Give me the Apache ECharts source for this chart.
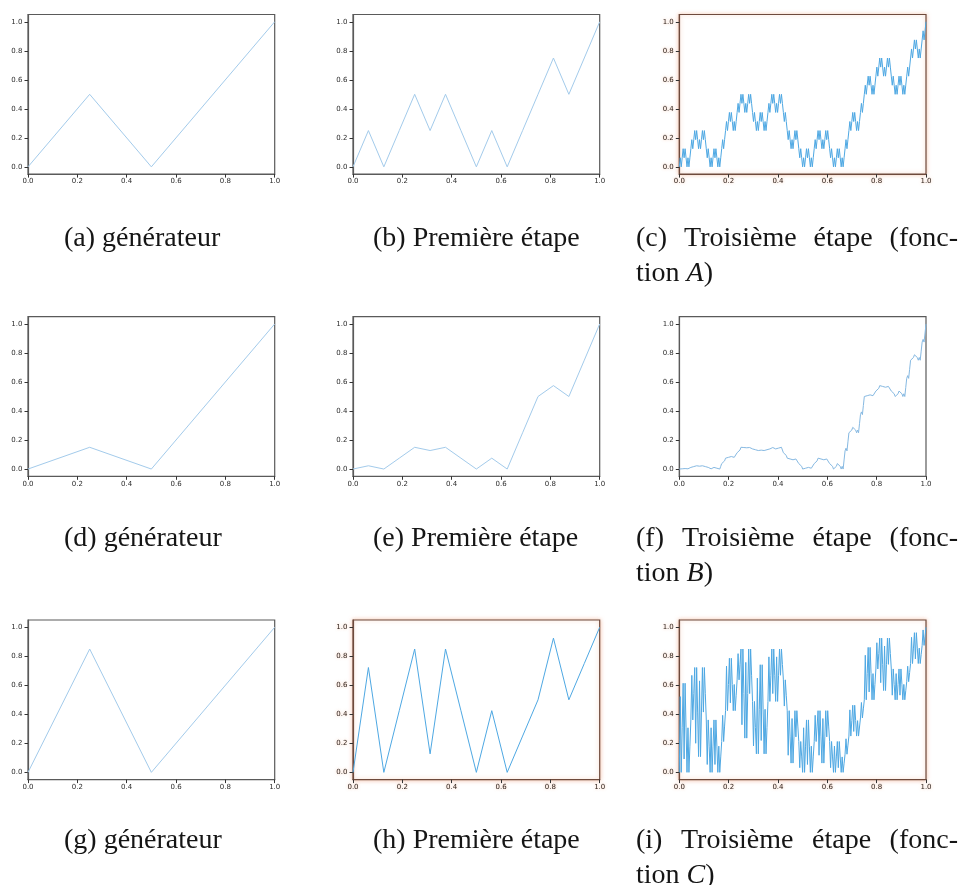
<!DOCTYPE html>
<html><head><meta charset="utf-8">
<script src="https://cdn.jsdelivr.net/npm/echarts@6/dist/echarts.min.js"></script>
<style>html,body{margin:0;padding:0;background:#fff}#c{width:962px;height:885px}</style>
</head><body><div id="c"></div>
<script>
// ---------- tick labels ----------
const tickValues = [0, 0.2, 0.4, 0.6, 0.8, 1.0];

// ---------- generators ----------
const xGen = [0, 0.25, 0.5, 1];
const genA = [0, 0.5, 0, 1];
const genB = [0, 0.15, 0, 1];
const genC = [0, 0.85, 0, 1];

// ---------- first stage ----------
const xStage1 = [0, 0.0625, 0.125, 0.1875, 0.25, 0.3125, 0.375, 0.4375, 0.5, 0.5625, 0.625, 0.6875, 0.75, 0.8125, 0.875, 0.9375, 1];
const stage1A = [0, .25, 0, .25, .5, .25, .5, .25, 0, .25, 0, .25, .5, .75, .5, .75, 1];
const stage1B = [0, .0225, 0, .075, .15, .1275, .15, .075, 0, .075, 0, .25, .5, .575, .5, .75, 1];
const stage1C = [0, .7225, 0, .425, .85, .1275, .85, .425, 0, .425, 0, .25, .5, .925, .5, .75, 1];

// ---------- third stage (257 points each) ----------
const stage3A = [
0,.0625,0,.0625,.125,.0625,.125,.0625,0,.0625,0,.0625,.125,.1875,.125,.1875,.25,
.1875,.25,.1875,.125,.1875,.125,.1875,.25,.1875,.25,.1875,.125,.0625,.125,.0625,0,
.0625,0,.0625,.125,.0625,.125,.0625,0,.0625,0,.0625,.125,.1875,.125,.1875,.25,
.3125,.25,.3125,.375,.3125,.375,.3125,.25,.3125,.25,.3125,.375,.4375,.375,.4375,.5,
.4375,.5,.4375,.375,.4375,.375,.4375,.5,.4375,.5,.4375,.375,.3125,.375,.3125,.25,
.3125,.25,.3125,.375,.3125,.375,.3125,.25,.3125,.25,.3125,.375,.4375,.375,.4375,.5,
.4375,.5,.4375,.375,.4375,.375,.4375,.5,.4375,.5,.4375,.375,.3125,.375,.3125,.25,
.1875,.25,.1875,.125,.1875,.125,.1875,.25,.1875,.25,.1875,.125,.0625,.125,.0625,0,
.0625,0,.0625,.125,.0625,.125,.0625,0,.0625,0,.0625,.125,.1875,.125,.1875,.25,
.1875,.25,.1875,.125,.1875,.125,.1875,.25,.1875,.25,.1875,.125,.0625,.125,.0625,0,
.0625,0,.0625,.125,.0625,.125,.0625,0,.0625,0,.0625,.125,.1875,.125,.1875,.25,
.3125,.25,.3125,.375,.3125,.375,.3125,.25,.3125,.25,.3125,.375,.4375,.375,.4375,.5,
.5625,.5,.5625,.625,.5625,.625,.5625,.5,.5625,.5,.5625,.625,.6875,.625,.6875,.75,
.6875,.75,.6875,.625,.6875,.625,.6875,.75,.6875,.75,.6875,.625,.5625,.625,.5625,.5,
.5625,.5,.5625,.625,.5625,.625,.5625,.5,.5625,.5,.5625,.625,.6875,.625,.6875,.75,
.8125,.75,.8125,.875,.8125,.875,.8125,.75,.8125,.75,.8125,.875,.9375,.875,.9375,1
];
const stage3B = [
0,.0005,0,.0017,.0034,.0029,.0034,.0017,0,.0017,0,.0056,.0113,.0129,.0113,.0169,.0225,
.022,.0225,.0208,.0191,.0196,.0191,.0208,.0225,.0208,.0225,.0169,.0113,.0096,.0113,.0056,0,
.0017,0,.0056,.0113,.0096,.0113,.0056,0,.0056,0,.0188,.0375,.0431,.0375,.0563,.075,
.0767,.075,.0806,.0863,.0846,.0863,.0806,.075,.0806,.075,.0938,.1125,.1181,.1125,.1313,.15,
.1495,.15,.1483,.1466,.1471,.1466,.1483,.15,.1483,.15,.1444,.1388,.1371,.1388,.1331,.1275,
.128,.1275,.1292,.1309,.1304,.1309,.1292,.1275,.1292,.1275,.1331,.1388,.1404,.1388,.1444,.15,
.1483,.15,.1444,.1388,.1404,.1388,.1444,.15,.1444,.15,.1313,.1125,.1069,.1125,.0938,.075,
.0733,.075,.0694,.0638,.0654,.0638,.0694,.075,.0694,.075,.0563,.0375,.0319,.0375,.0188,0,
.0017,0,.0056,.0113,.0096,.0113,.0056,0,.0056,0,.0188,.0375,.0431,.0375,.0563,.075,
.0733,.075,.0694,.0638,.0654,.0638,.0694,.075,.0694,.075,.0563,.0375,.0319,.0375,.0188,0,
.0056,0,.0188,.0375,.0319,.0375,.0188,0,.0188,0,.0625,.125,.1438,.125,.1875,.25,
.2556,.25,.2688,.2875,.2819,.2875,.2688,.25,.2688,.25,.3125,.375,.3938,.375,.4375,.5,
.5017,.5,.5056,.5113,.5096,.5113,.5056,.5,.5056,.5,.5188,.5375,.5431,.5375,.5563,.575,
.5733,.575,.5694,.5638,.5654,.5638,.5694,.575,.5694,.575,.5563,.5375,.5319,.5375,.5188,.5,
.5056,.5,.5188,.5375,.5319,.5375,.5188,.5,.5188,.5,.5625,.625,.6438,.625,.6875,.75,
.7556,.75,.7688,.7875,.7819,.7875,.7688,.75,.7688,.75,.8125,.875,.8938,.875,.9375,1
];
const stage3C = [
0,.522,0,.3071,.6141,.0921,.6141,.3071,0,.3071,0,.1806,.3613,.6683,.3613,.5419,.7225,
.2005,.7225,.4154,.1084,.6304,.1084,.4154,.7225,.4154,.7225,.5419,.3613,.0542,.3613,.1806,0,
.3071,0,.1806,.3613,.0542,.3613,.1806,0,.1806,0,.1063,.2125,.3931,.2125,.3188,.425,
.7321,.425,.6056,.7863,.4792,.7863,.6056,.425,.6056,.425,.5313,.6375,.8181,.6375,.7438,.85,
.328,.85,.5429,.2359,.7579,.2359,.5429,.85,.5429,.85,.6694,.4888,.1817,.4888,.3081,.1275,
.6495,.1275,.4346,.7416,.2196,.7416,.4346,.1275,.4346,.1275,.3081,.4888,.7958,.4888,.6694,.85,
.5429,.85,.6694,.4888,.7958,.4888,.6694,.85,.6694,.85,.7438,.6375,.4569,.6375,.5313,.425,
.1179,.425,.2444,.0638,.3708,.0638,.2444,.425,.2444,.425,.3188,.2125,.0319,.2125,.1063,0,
.3071,0,.1806,.3613,.0542,.3613,.1806,0,.1806,0,.1063,.2125,.3931,.2125,.3188,.425,
.1179,.425,.2444,.0638,.3708,.0638,.2444,.425,.2444,.425,.3188,.2125,.0319,.2125,.1063,0,
.1806,0,.1063,.2125,.0319,.2125,.1063,0,.1063,0,.0625,.125,.2313,.125,.1875,.25,
.4306,.25,.3563,.4625,.2819,.4625,.3563,.25,.3563,.25,.3125,.375,.4813,.375,.4375,.5,
.8071,.5,.6806,.8613,.5542,.8613,.6806,.5,.6806,.5,.6063,.7125,.8931,.7125,.8188,.925,
.6179,.925,.7444,.5638,.8708,.5638,.7444,.925,.7444,.925,.8188,.7125,.5319,.7125,.6063,.5,
.6806,.5,.6063,.7125,.5319,.7125,.6063,.5,.6063,.5,.5625,.625,.7313,.625,.6875,.75,
.9306,.75,.8563,.9625,.7819,.9625,.8563,.75,.8563,.75,.8125,.875,.9813,.875,.9375,1
];
// evenly spaced sample positions of the third stage (256 equal sub-intervals)
const xStage3 = [];
for (let i = 0; i < stage3A.length; i++) xStage3.push(i / (stage3A.length - 1));

// ---------- captions ----------
const captionsLine1 = ['(a) générateur', '(b) Première étape', '(c) Troisième étape (fonc-',
                       '(d) générateur', '(e) Première étape', '(f) Troisième étape (fonc-',
                       '(g) générateur', '(h) Première étape', '(i) Troisième étape (fonc-'];
const captionsLine2 = [null, null, 'A', null, null, 'B', null, null, 'C'];

// ---------- layout ----------
const colLeft = [28, 353, 679.3];
const plotW = 246.7;
const rowTop = [14.5, 316.7, 620];
const plotH = 159.6;
const capLeft = [64, 373, 636];
const capRight3 = 958;
const capBase1 = [243, 543, 845];
const capLineGap = 35;

const panels = [
  {x: xGen, y: genA, glow: false}, {x: xStage1, y: stage1A, glow: false}, {x: xStage3, y: stage3A, glow: true},
  {x: xGen, y: genB, glow: false}, {x: xStage1, y: stage1B, glow: false}, {x: xStage3, y: stage3B, glow: false, mid: true},
  {x: xGen, y: genC, glow: false}, {x: xStage1, y: stage1C, glow: true}, {x: xStage3, y: stage3C, glow: true}
];

const grids = [], xAxes = [], yAxes = [], series = [];
panels.forEach((p, i) => {
  const r = Math.floor(i / 3), c = i % 3;
  const border = p.glow ? '#6e4a3c' : '#5a5a5a';
  grids.push({
    left: colLeft[c], top: rowTop[r], width: plotW, height: plotH,
    show: true, borderColor: border, borderWidth: 1.2, backgroundColor: '#fff',
    shadowColor: p.glow ? 'rgba(235,150,110,0.55)' : 'rgba(0,0,0,0)', shadowBlur: p.glow ? 4 : 0
  });
  const lbl = {
    fontFamily: 'DejaVu Sans', fontSize: 7, color: p.glow ? '#2a1e18' : '#2b2b2b',
    formatter: v => Number(v).toFixed(1), customValues: tickValues, showMinLabel: true, showMaxLabel: true
  };
  if (p.glow) { lbl.textShadowColor = 'rgba(240,160,120,0.7)'; lbl.textShadowBlur = 3; }
  xAxes.push({
    gridIndex: i, type: 'value', min: 0, max: 1, interval: 0.2, position: 'bottom',
    axisLine: {show: true, onZero: false, lineStyle: {color: border, width: 1.2}},
    axisTick: {show: true, length: 3.5, customValues: tickValues, lineStyle: {color: '#333', width: 1}},
    axisLabel: Object.assign({margin: 4}, lbl),
    splitLine: {show: false}
  });
  yAxes.push({
    gridIndex: i, type: 'value', min: -0.05, max: 1.05, position: 'left',
    axisLine: {show: true, onZero: false, lineStyle: {color: border, width: 1.2}},
    axisTick: {show: true, length: 3.5, customValues: tickValues, lineStyle: {color: '#333', width: 1}},
    axisLabel: Object.assign({margin: 5.5}, lbl),
    splitLine: {show: false}
  });
  series.push({
    type: 'line', xAxisIndex: i, yAxisIndex: i,
    data: p.x.map((xv, k) => [xv, p.y[k]]),
    showSymbol: false, symbol: 'none', silent: true, animation: false,
    lineStyle: {width: 1, color: p.glow ? '#4ea8e3' : (p.mid ? '#86b9e2' : '#a3cbeb')}
  });
});

// ---------- captions as text ----------
const capFont = '28px "Liberation Serif"';
const meas = document.createElement('canvas').getContext('2d');
meas.font = capFont;
const graphics = [];
function addText(txt, x, base, rich) {
  const el = {type: 'text', x: x, y: base - 4, silent: true,
    style: {text: txt, font: capFont, fill: '#151515', verticalAlign: 'middle', align: 'left'}};
  if (rich) el.style.rich = rich;
  graphics.push(el);
}
captionsLine1.forEach((t, i) => {
  const r = Math.floor(i / 3), c = i % 3;
  const base = capBase1[r];
  if (captionsLine2[i]) {
    // justified first line
    const words = t.split(' ');
    const widths = words.map(w => meas.measureText(w).width);
    const total = widths.reduce((a, b) => a + b, 0);
    const gap = (capRight3 - capLeft[c] - total) / (words.length - 1);
    let x = capLeft[c];
    words.forEach((w, k) => { addText(w, x, base); x += widths[k] + gap; });
    addText('tion {it|' + captionsLine2[i] + '})', capLeft[c], base + capLineGap,
      {it: {fontStyle: 'italic', fontFamily: 'Liberation Serif', fontSize: 28, fill: '#151515'}});
  } else {
    addText(t, capLeft[c], base);
  }
});

const chart = echarts.init(document.getElementById('c'), null, {renderer: 'canvas'});
chart.setOption({
  animation: false,
  grid: grids, xAxis: xAxes, yAxis: yAxes, series: series,
  graphic: {elements: graphics}
});
</script>
</body></html>
